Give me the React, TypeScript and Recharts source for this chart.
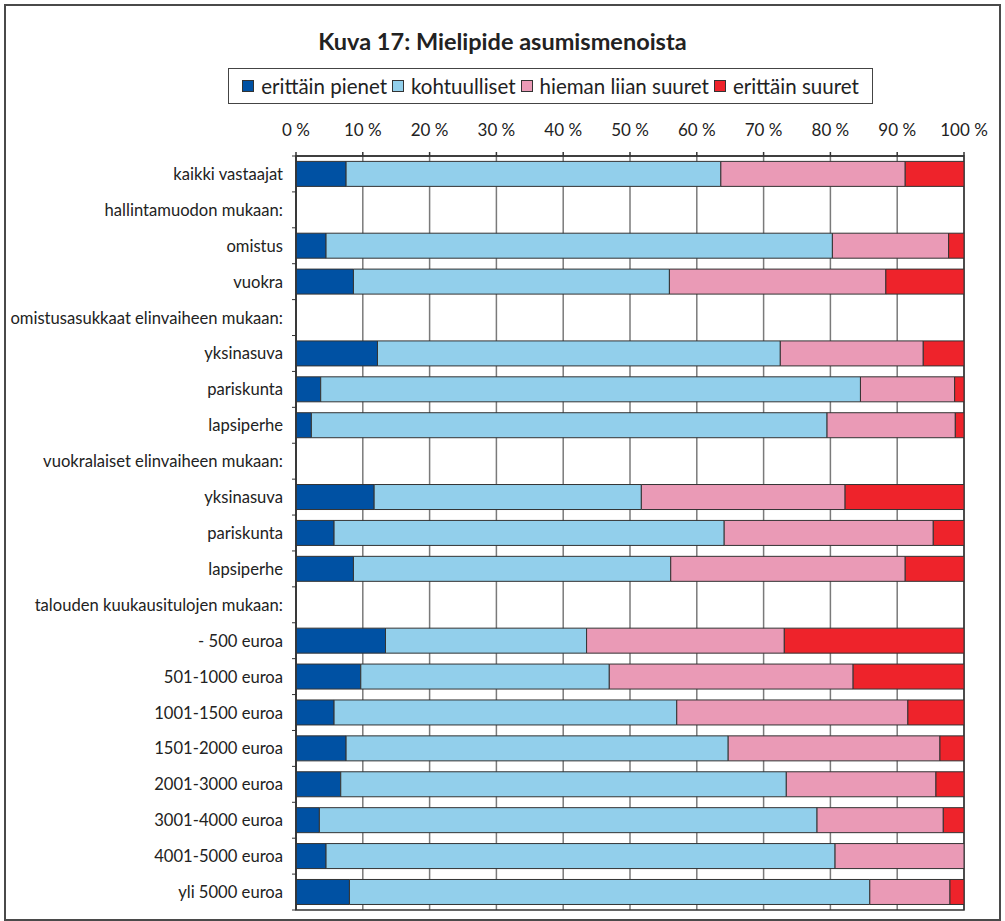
import React from "react";
import { BarChart, Bar, XAxis, YAxis, CartesianGrid, Legend, ReferenceArea } from "recharts";

const categories = [
  "kaikki vastaajat",
  "hallintamuodon mukaan:",
  "omistus",
  "vuokra",
  "omistusasukkaat elinvaiheen mukaan:",
  "yksinasuva",
  "pariskunta",
  "lapsiperhe",
  "vuokralaiset elinvaiheen mukaan:",
  "yksinasuva",
  "pariskunta",
  "lapsiperhe",
  "talouden kuukausitulojen mukaan:",
  "- 500 euroa",
  "501-1000 euroa",
  "1001-1500 euroa",
  "1501-2000 euroa",
  "2001-3000 euroa",
  "3001-4000 euroa",
  "4001-5000 euroa",
  "yli 5000 euroa",
];

const erittainPienet = [7.5, null, 4.5, 8.6, null, 12.2, 3.7, 2.3, null, 11.7, 5.7, 8.6, null, 13.4, 9.7, 5.7, 7.5, 6.7, 3.5, 4.5, 8.0];
const kohtuulliset = [56.1, null, 75.8, 47.3, null, 60.3, 80.8, 77.2, null, 40.0, 58.4, 47.5, null, 30.1, 37.2, 51.3, 57.2, 66.7, 74.5, 76.2, 77.9];
const hiemanLiianSuuret = [27.6, null, 17.4, 32.4, null, 21.4, 14.1, 19.2, null, 30.5, 31.3, 35.1, null, 29.6, 36.5, 34.6, 31.7, 22.4, 18.9, 19.3, 12.0];
const erittainSuuret = [8.8, null, 2.3, 11.7, null, 6.1, 1.4, 1.3, null, 17.8, 4.6, 8.8, null, 26.9, 16.6, 8.4, 3.6, 4.2, 3.1, 0, 2.1];

const xTicks = [0, 10, 20, 30, 40, 50, 60, 70, 80, 90, 100];

const seriesNames = ["erittäin pienet", "kohtuulliset", "hieman liian suuret", "erittäin suuret"];
const seriesKeys = ["pienet", "kohtuulliset", "hieman", "suuret"];
const seriesColors = ["#0051a3", "#92cfeb", "#ea9ab6", "#ee232b"];

const data = categories.map((name, i) => ({
  idx: String(i),
  name,
  pienet: erittainPienet[i],
  kohtuulliset: kohtuulliset[i],
  hieman: hiemanLiianSuuret[i],
  suuret: erittainSuuret[i],
}));

const CHART_W = 1005;
const CHART_H = 921;
const MARGIN = { top: 126, right: 41, bottom: 11, left: 0 };
const X_AXIS_H = 30;
const Y_AXIS_W = 296;
const PLOT_H = CHART_H - MARGIN.top - X_AXIS_H - MARGIN.bottom;
const BAND = PLOT_H / categories.length;
const TICK_MARGIN_Y = 13;
const FONT = "Lato, 'Open Sans', sans-serif";

const YTick = (props: any) => {
  const { x, y, payload, index } = props;
  const axisX = x + TICK_MARGIN_Y;
  const label = categories[Number(payload.value)];
  return (
    <g>
      <text x={x} y={y} textAnchor="end" dominantBaseline="central" fontSize={16.6} fill="#222" fontFamily={FONT}>
        {label}
      </text>
      {index === 0 && (
        <line x1={axisX - 4} x2={axisX} y1={y - BAND / 2} y2={y - BAND / 2} stroke="#333" strokeWidth={1} />
      )}
      <line x1={axisX - 4} x2={axisX} y1={y + BAND / 2} y2={y + BAND / 2} stroke="#333" strokeWidth={1} />
    </g>
  );
};

const LegendBox = () => (
  <div
    style={{
      boxSizing: "border-box",
      width: 645,
      height: 36,
      border: "1.5px solid #444",
      background: "#fff",
      display: "flex",
      alignItems: "center",
      justifyContent: "center",
      fontFamily: FONT,
      fontSize: 20.5,
      color: "#222",
      whiteSpace: "nowrap",
    }}
  >
    {seriesNames.map((n, i) => (
      <span key={n} style={{ display: "inline-flex", alignItems: "center", marginRight: i < 3 ? 5 : 0 }}>
        <span
          style={{
            display: "inline-block",
            boxSizing: "border-box",
            width: 12,
            height: 12,
            background: seriesColors[i],
            border: "1px solid #333",
            marginRight: 7,
          }}
        />
        {n}
      </span>
    ))}
  </div>
);

export default function App() {
  return (
    <div style={{ position: "absolute", left: 0, top: 0, width: CHART_W, height: CHART_H, background: "#fff", fontFamily: FONT }}>
      <div
        style={{
          position: "absolute",
          left: 4,
          top: 4,
          width: 997,
          height: 917,
          boxSizing: "border-box",
          border: "2px solid #4a4a4a",
        }}
      />
      <div
        style={{
          position: "absolute",
          left: 0,
          top: 28,
          width: CHART_W,
          textAlign: "center",
          fontFamily: FONT,
          fontWeight: 700,
          fontSize: 23.5,
          lineHeight: "26px",
          color: "#222",
        }}
      >
        Kuva 17: Mielipide asumismenoista
      </div>
      <div style={{ position: "absolute", left: 0, top: 0 }}>
        <BarChart
          width={CHART_W}
          height={CHART_H}
          data={data}
          layout="vertical"
          margin={MARGIN}
          barCategoryGap="15%"
        >
          <CartesianGrid horizontal={false} stroke="#7a7a7a" strokeWidth={1.5} />
          <XAxis
            type="number"
            orientation="top"
            domain={[0, 100]}
            ticks={xTicks}
            interval={0}
            height={X_AXIS_H}
            tickFormatter={(v: number) => `${v} %`}
            tick={{ fontSize: 17, fill: "#222", fontFamily: FONT }}
            tickSize={4}
            tickMargin={16}
            axisLine={{ stroke: "#333", strokeWidth: 1.5 }}
            tickLine={{ stroke: "#333", strokeWidth: 1.5 }}
            allowDataOverflow
          />
          <YAxis
            type="category"
            dataKey="idx"
            width={Y_AXIS_W}
            interval={0}
            tickSize={0}
            tickMargin={TICK_MARGIN_Y}
            tick={<YTick />}
            axisLine={{ stroke: "#333", strokeWidth: 1.5 }}
            tickLine={false}
          />
          <Legend
            layout="vertical"
            align="center"
            verticalAlign="middle"
            wrapperStyle={{ position: "absolute", left: 228, top: 68, width: 645, height: 36 }}
            content={() => <LegendBox />}
          />
          {seriesKeys.map((k, i) => (
            <Bar
              key={k}
              dataKey={k}
              name={seriesNames[i]}
              stackId="a"
              fill={seriesColors[i]}
              stroke="#333"
              strokeWidth={1}
              isAnimationActive={false}
            />
          ))}
          <ReferenceArea x1={0} x2={100} fill="none" fillOpacity={0} stroke="#333" strokeWidth={1.5} ifOverflow="visible" />
        </BarChart>
      </div>
    </div>
  );
}
